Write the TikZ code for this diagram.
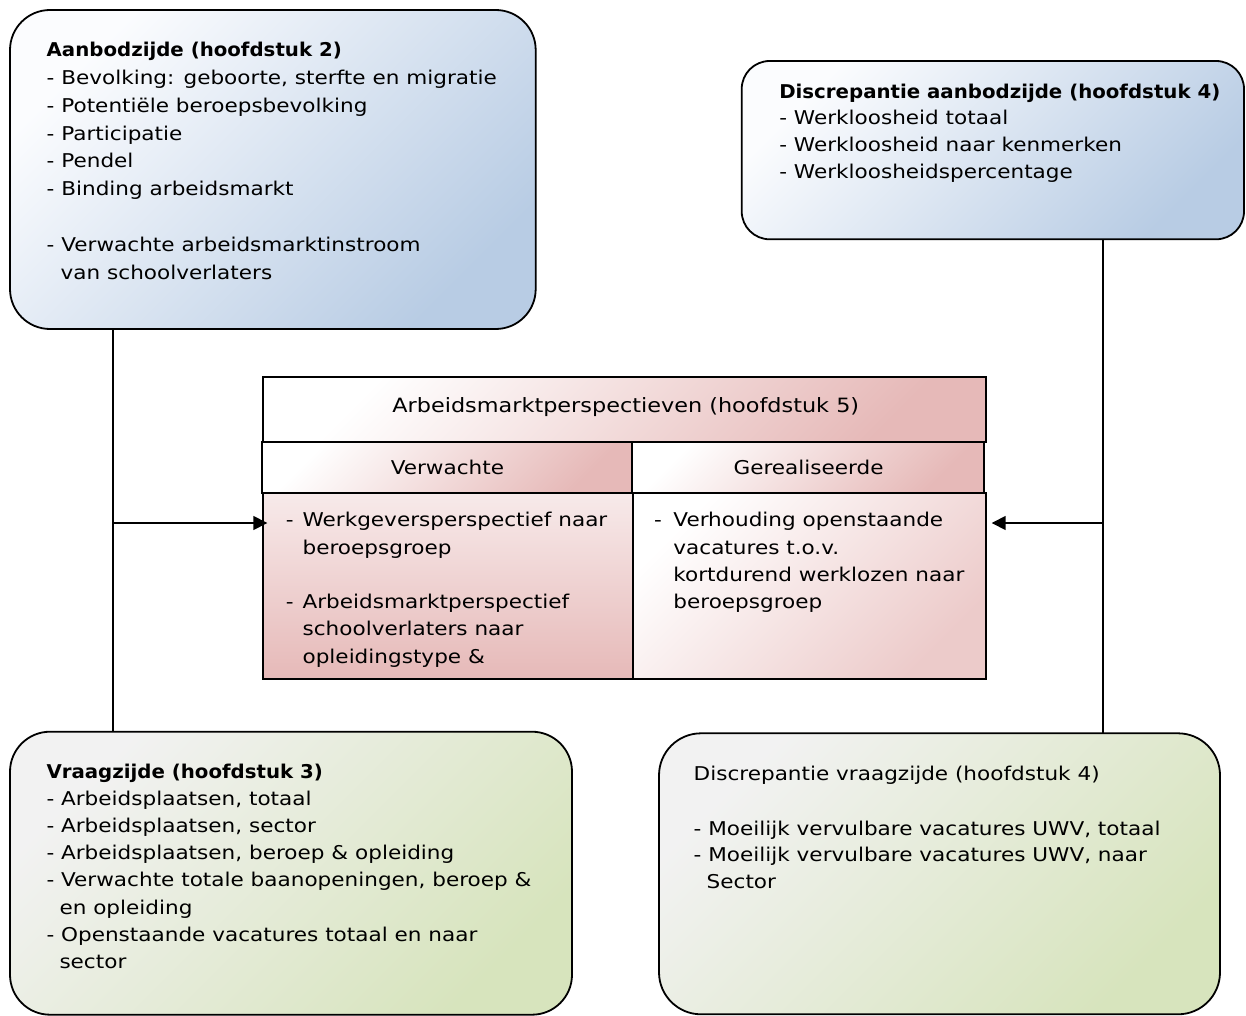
\documentclass[tikz,border=0pt]{standalone}
\usepackage{fontspec}
\setmainfont{DejaVu Sans}[FakeStretch=1.135, BoldFeatures={FakeStretch=1.04}]
\usetikzlibrary{arrows.meta,calc}
\definecolor{blueD}{HTML}{B8CCE4}
\definecolor{blueL}{HTML}{FBFCFE}
\definecolor{greenD}{HTML}{D7E4BD}
\definecolor{greenL}{HTML}{F2F2F2}
\definecolor{pinkD}{HTML}{E6B9B8}
\definecolor{pinkM}{HTML}{F7EAEA}
\newcommand{\tblk}[3]{\parbox[t]{#1pt}{\fontsize{19}{#2pt}\selectfont\raggedright #3}}
\tikzset{
  box/.style={draw=black, line width=1.8pt, rounded corners=40pt, inner sep=0pt, outer sep=0pt, anchor=north west},
  bluebox/.style={box, top color=blueL, bottom color=blueD, shading angle=45},
  greenbox/.style={box, top color=greenL, bottom color=greenD, shading angle=45},
  cell/.style={draw=black, line width=1.8pt, inner sep=0pt, outer sep=0pt, anchor=north west, top color=white, bottom color=pinkD, shading angle=45},
  bodycell/.style={cell, top color=pinkM},
  txt/.style={inner sep=0pt, outer sep=0pt, anchor=base west},
  ctxt/.style={inner sep=0pt, outer sep=0pt, anchor=base},
  conn/.style={draw=black, line width=1.6pt},
  arr/.style={conn, -{Triangle[length=14pt,width=14pt]}}
}
\begin{document}
\begin{tikzpicture}[x=1pt,y=-1pt]
\useasboundingbox (0,0) rectangle (1246,1016);

% boxes
\node[bluebox, minimum width=525.7, minimum height=319] (aanbod) at (10,10) {};
\node[bluebox, rounded corners=28pt, minimum width=502.3, minimum height=178.3] (discA) at (741.7,61) {};
\node[greenbox, minimum width=562, minimum height=283] (vraag) at (10,731.7) {};
\node[greenbox, rounded corners=42pt, minimum width=561, minimum height=281] (discV) at (659,733.3) {};

% table
\node[cell, minimum width=722.4, minimum height=64.4] (hdr) at (263.3,377.3) {};
\node[cell, minimum width=370, minimum height=51] (colV) at (261.7,441.7) {};
\node[cell, minimum width=352.3, minimum height=51] (colG) at (631.7,441.7) {};
\node[bodycell, minimum width=370, minimum height=186.6] (bodyL) at (263.3,492.7) {};
\node[cell, top color=white, bottom color=pinkD!75, shading angle=45, minimum width=352.4, minimum height=186.6] (bodyR) at (633.3,492.7) {};

% texts
\node[txt] (t1) at (46.7,56.7) {\tblk{520}{27.8}{\textbf{Aanbodzijde (hoofdstuk 2)}\\- Bevolking: geboorte, sterfte en migratie\\- Potentiële beroepsbevolking\\- Participatie\\- Pendel\\- Binding arbeidsmarkt\\[27.8pt]- Verwachte arbeidsmarktinstroom\\\hspace*{14pt}van schoolverlaters}};

\node[txt] (t2) at (779.3,98.3) {\tblk{460}{26.7}{\textbf{Discrepantie aanbodzijde (hoofdstuk 4)}\\- Werkloosheid totaal\\- Werkloosheid naar kenmerken\\- Werkloosheidspercentage}};

\node[txt] (t3) at (46.5,778.3) {\tblk{530}{27.15}{\textbf{Vraagzijde (hoofdstuk 3)}\\- Arbeidsplaatsen, totaal\\- Arbeidsplaatsen, sector\\- Arbeidsplaatsen, beroep \& opleiding\\- Verwachte totale baanopeningen, beroep \&\\\hspace*{13pt}en opleiding\\- Openstaande vacatures totaal en naar\\\hspace*{13pt}sector}};

\node[txt] (t4) at (693.7,780) {\tblk{530}{26.8}{Discrepantie vraagzijde (hoofdstuk 4)\\[28.2pt]- Moeilijk vervulbare vacatures UWV, totaal\\- Moeilijk vervulbare vacatures UWV, naar\\\hspace*{13pt}Sector}};

\node[ctxt] (th) at (625.8,412) {\fontsize{19.7}{24}\selectfont Arbeidsmarktperspectieven (hoofdstuk 5)};
\node[ctxt] (tv) at (447.4,474.5) {\fontsize{19}{24}\selectfont Verwachte};
\node[ctxt] (tg) at (808.6,474.5) {\fontsize{19}{24}\selectfont Gerealiseerde};

\node[txt] (tl) at (285.9,526.7) {\tblk{340}{27.3}{\makebox[16.7pt][l]{-}Werkgeversperspectief naar\\\hspace*{16.7pt}beroepsgroep\\[27.3pt]\makebox[16.7pt][l]{-}Arbeidsmarktperspectief\\\hspace*{16.7pt}schoolverlaters naar\\\hspace*{16.7pt}opleidingstype \&}};

\node[txt] (tr) at (654,526.7) {\tblk{340}{27.3}{\makebox[19.4pt][l]{-}Verhouding openstaande\\\hspace*{19.4pt}vacatures t.o.v.\\\hspace*{19.4pt}kortdurend werklozen naar\\\hspace*{19.4pt}beroepsgroep}};

% connectors
\coordinate (jl) at (113,523);
\coordinate (jr) at (1103,523);
\draw[conn] (aanbod.south -| jl) -- (vraag.north -| jl);
\draw[conn] (discA.south -| jr) -- (discV.north -| jr);
\draw[arr, shorten >=-4pt] (jl) -- (bodyL.west |- jl);
\draw[arr, shorten >=6pt] (jr) -- (bodyR.east |- jr);
\end{tikzpicture}
\end{document}
